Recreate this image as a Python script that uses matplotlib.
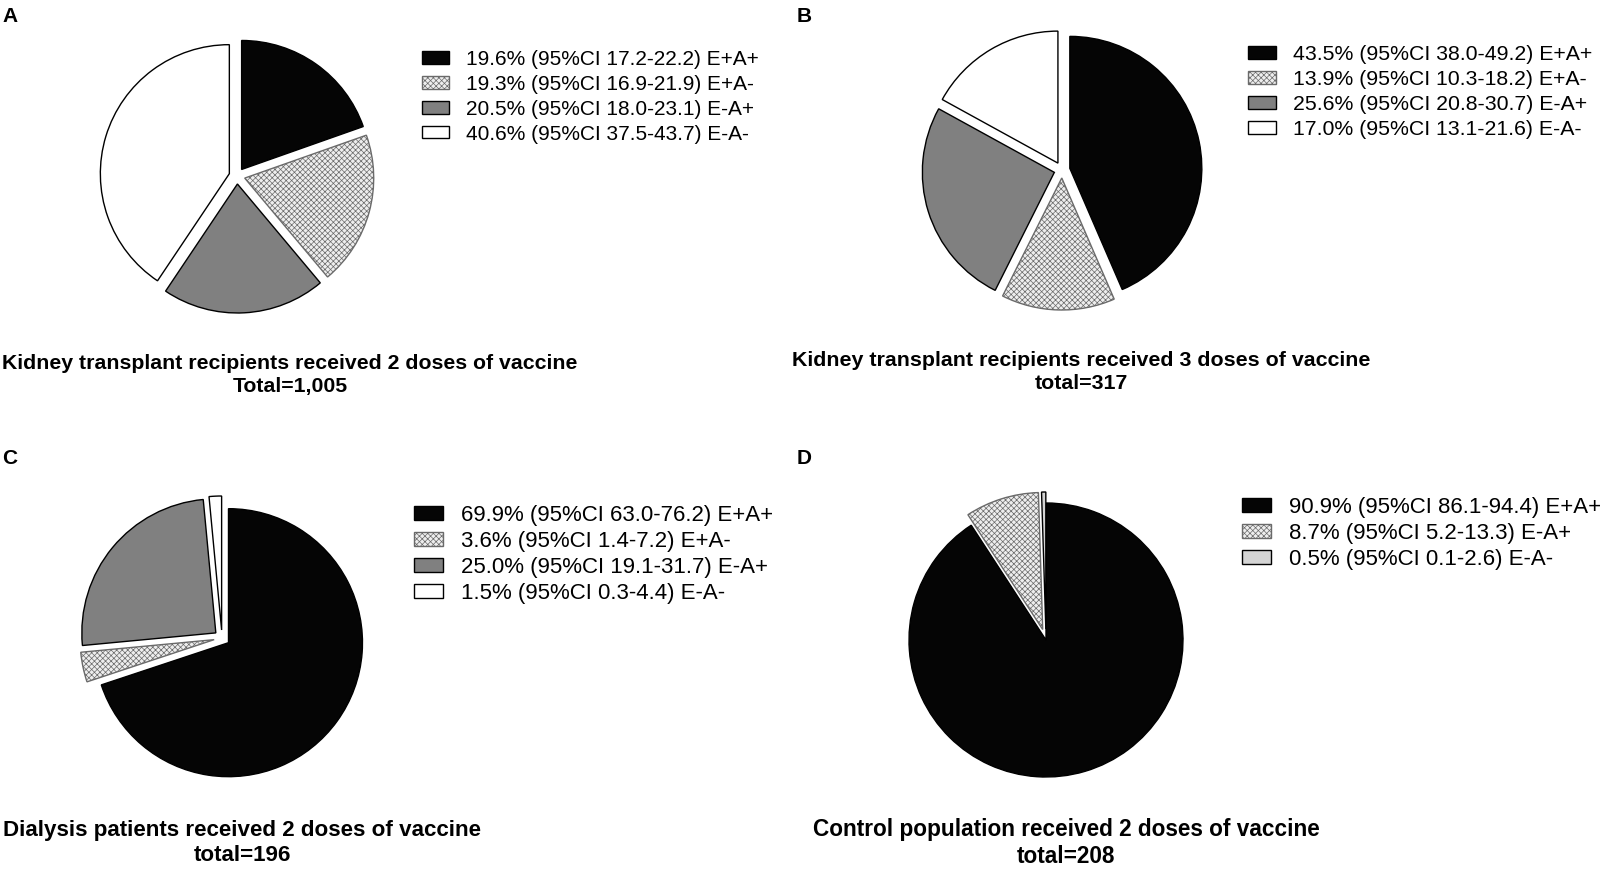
import numpy as np
import matplotlib
matplotlib.use("Agg")
import matplotlib.pyplot as plt

plt.rcParams['font.family'] = ['Liberation Sans', 'DejaVu Sans']
plt.rcParams['hatch.linewidth'] = 0.5

W, H = 1616, 869

# data
groups_abc = ["E+A+", "E+A-", "E-A+", "E-A-"]
groups_d = ["E+A+", "E-A+", "E-A-"]

pct_a = [19.6, 19.3, 20.5, 40.6]
lo_a = [17.2, 16.9, 18.0, 37.5]
hi_a = [22.2, 21.9, 23.1, 43.7]

pct_b = [43.5, 13.9, 25.6, 17.0]
lo_b = [38.0, 10.3, 20.8, 13.1]
hi_b = [49.2, 18.2, 30.7, 21.6]

pct_c = [69.9, 3.6, 25.0, 1.5]
lo_c = [63.0, 1.4, 19.1, 0.3]
hi_c = [76.2, 7.2, 31.7, 4.4]

pct_d = [90.9, 8.7, 0.5]
lo_d = [86.1, 5.2, 0.1]
hi_d = [94.4, 13.3, 2.6]

titles = ["Kidney transplant recipients received 2 doses of vaccine\nTotal=1,005",
          "Kidney transplant recipients received 3 doses of vaccine\ntotal=317",
          "Dialysis patients received 2 doses of vaccine\ntotal=196",
          "Control population received 2 doses of vaccine\ntotal=208"]

BLACK = "#050505"
GRAY = "#808080"
HATCH_BG = "#eeeeee"
LIGHT = "#d4d4d4"

fig = plt.figure(figsize=(W / 100, H / 100), dpi=100)


def make_labels(pct, lo, hi, groups):
    return ["{}% (95%CI {}-{}) {}".format(p, l, h, g)
            for p, l, h, g in zip(pct, lo, hi, groups)]


def panel(letter, pct, lo, hi, groups, fills, explode, center, radius,
          leg_xy, title_xy, letter_xy, title, fs_leg, fs_title, spacing=0.28):
    ax = fig.add_axes([0, 0, 1, 1])
    cx, cy = center
    # explode is in data units (pixels here)
    wedges, _ = ax.pie(pct, explode=explode, startangle=90, counterclock=False,
                       center=(cx, H - cy), radius=radius, frame=True,
                       wedgeprops=dict(linewidth=1.0, edgecolor="black"))
    for w, f in zip(wedges, fills):
        if f == "hatch":
            w.set_facecolor(HATCH_BG)
            w.set_edgecolor("#6a6a6a")
            w.set_hatch("xxxxxx")
        else:
            w.set_facecolor(f)
    ax.set_xlim(0, W)
    ax.set_ylim(0, H)
    ax.axis("off")
    ax.legend(wedges, make_labels(pct, lo, hi, groups), loc="upper left",
              bbox_to_anchor=(leg_xy[0], H - leg_xy[1]),
              bbox_transform=ax.transData, frameon=False, fontsize=fs_leg,
              borderpad=0, borderaxespad=0, handlelength=1.3,
              handleheight=0.55, handletextpad=0.8, labelspacing=spacing)
    ax.text(title_xy[0], H - title_xy[1], title, ha="center", va="center",
            fontsize=fs_title, fontweight="bold", linespacing=1.25)
    ax.text(letter_xy[0], H - letter_xy[1], letter, ha="left", va="center",
            fontsize=15, fontweight="bold")


fills4 = [BLACK, "hatch", GRAY, "white"]

panel("A", pct_a, lo_a, hi_a, groups_abc, fills4, [8] * 4,
      (237, 176), 129, (422, 50), (290, 375), (2, 16), titles[0], 15, 15.3)
panel("B", pct_b, lo_b, hi_b, groups_abc, fills4, [8] * 4,
      (1062, 170), 132, (1248, 45), (1081, 372), (797, 16), titles[1],
      15.3, 15.4)
panel("C", pct_c, lo_c, hi_c, groups_abc, fills4, [8] * 4,
      (222, 638), 134, (414, 505), (242, 843), (2, 458), titles[2],
      16, 16.1, 0.22)
panel("D", pct_d, lo_d, hi_d, groups_d, [BLACK, "hatch", LIGHT],
      [0, 11, 11], (1046, 640), 137, (1242, 497), (1066, 843),
      (797, 458), titles[3], 16, 16.3, 0.22)

fig.savefig("out.png", dpi=100, facecolor="white")
